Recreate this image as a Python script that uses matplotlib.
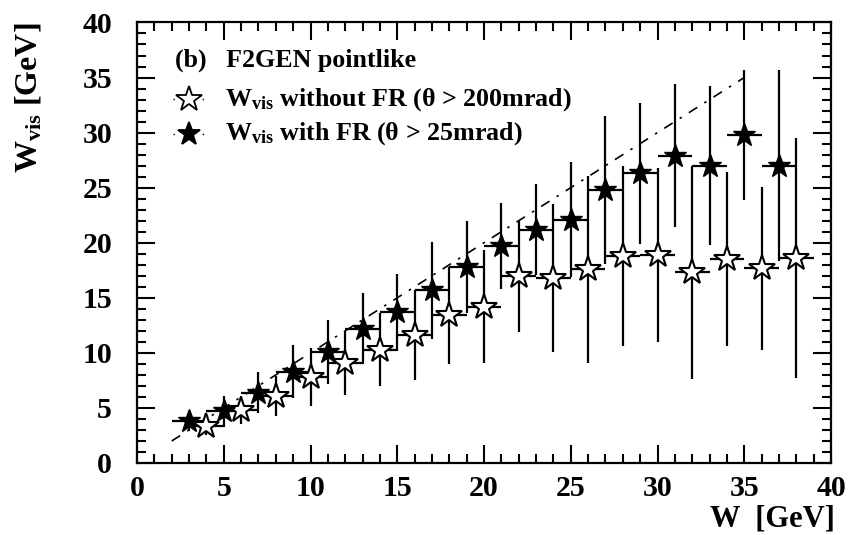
import numpy as np
import matplotlib
matplotlib.use("Agg")
import matplotlib.pyplot as plt

plt.rcParams['font.family'] = ['Liberation Serif', 'DejaVu Serif']
plt.rcParams['font.weight'] = 'bold'
plt.rcParams['mathtext.fontset'] = 'custom'
plt.rcParams['mathtext.rm'] = 'Liberation Serif:bold'
plt.rcParams['mathtext.bf'] = 'Liberation Serif:bold'
plt.rcParams['mathtext.it'] = 'Liberation Serif:bold'

# W_vis with forward region (theta > 25 mrad), filled stars
w_fr = [3, 5, 7, 9, 11, 13, 15, 17, 19, 21, 23, 25, 27, 29, 31, 33, 35, 37]
wvis_fr = [3.8, 4.7, 6.4, 8.3, 10.1, 12.2, 13.7, 15.7, 17.8, 19.7, 21.2, 22.1,
           24.8, 26.3, 27.9, 27.0, 29.8, 27.0]
err_fr = [0.9, 1.4, 1.9, 2.4, 2.9, 3.2, 3.5, 4.4, 4.2, 3.9, 4.1, 5.2,
          6.7, 6.4, 6.5, 7.2, 5.9, 8.7]

# W_vis without forward region (theta > 200 mrad), open stars
w_nofr = [4, 6, 8, 10, 12, 14, 16, 18, 20, 22, 24, 26, 28, 30, 32, 34, 36, 38]
wvis_nofr = [3.4, 4.8, 6.1, 7.8, 9.1, 10.3, 11.6, 13.4, 14.2, 17.0, 16.8, 17.6,
             18.8, 18.9, 17.3, 18.5, 17.7, 18.6]
err_nofr = [0.9, 1.3, 1.8, 2.6, 2.9, 3.3, 4.1, 4.4, 5.1, 5.1, 6.7, 8.5,
            8.2, 7.9, 9.7, 7.9, 7.4, 10.9]

bin_half = 1.0

# W_vis = W reference line
line_w = [2, 35]
line_wvis = [2, 35]

fig = plt.figure(figsize=(8.49, 5.35), dpi=100)
ax = fig.add_axes([0.1614, 0.1346, 0.8174, 0.8234])

ax.plot(line_w, line_wvis, color='black', lw=1.2, dashes=(6, 5, 1.5, 5), zorder=1)

ax.errorbar(w_nofr, wvis_nofr, yerr=err_nofr, xerr=bin_half, fmt='none',
            ecolor='black', elinewidth=1.6, capsize=0, zorder=2)
ax.errorbar(w_fr, wvis_fr, yerr=err_fr, xerr=bin_half, fmt='none',
            ecolor='black', elinewidth=1.6, capsize=0, zorder=2)
ax.plot(w_nofr, wvis_nofr, ls='none', marker='*', ms=19, mfc='white',
        mec='black', mew=1.5, zorder=3)
ax.plot(w_fr, wvis_fr, ls='none', marker='*', ms=17, mfc='black',
        mec='black', mew=1.0, zorder=4)

ax.set_xlim(0, 40)
ax.set_ylim(0, 40)
ax.set_xticks(np.arange(0, 41, 5))
ax.set_yticks(np.arange(0, 41, 5))
ax.set_xticks(np.arange(0, 41, 1), minor=True)
ax.set_yticks(np.arange(0, 41, 1), minor=True)
ax.tick_params(which='both', direction='in', top=True, right=True, width=1.5)
ax.tick_params(which='major', length=13, labelsize=21.5)
ax.tick_params(which='minor', length=6.5)
ax.tick_params(axis='x', pad=9)
ax.tick_params(axis='y', pad=18)
for lab in ax.get_xticklabels() + ax.get_yticklabels():
    lab.set_fontweight('bold')
for sp in ax.spines.values():
    sp.set_linewidth(1.6)

ax.text(1.006, -0.128, 'W  [GeV]', transform=ax.transAxes, ha='right',
        va='center', fontsize=22, fontweight='bold')
ax.text(-0.157, 1.0, r'W$_{\rm vis}$ [GeV]', transform=ax.transAxes,
        rotation=90, ha='center', va='top', fontsize=23, fontweight='bold')

# legend block
ax.text(0.0548, 0.915, '(b)   F2GEN pointlike', transform=ax.transAxes,
        ha='left', va='center', fontsize=18.7, fontweight='bold')
rows = [(0.826, 'white', r'W$_{\rm vis}$ without FR (θ > 200mrad)'),
        (0.747, 'black', r'W$_{\rm vis}$ with FR (θ > 25mrad)')]
for y, fc, label in rows:
    ax.plot([0.052, 0.098], [y, y], transform=ax.transAxes, color='black',
            lw=1.0, dashes=(1, 6), clip_on=False)
    ax.plot([0.075], [y], transform=ax.transAxes, ls='none', marker='*',
            ms=19 if fc == 'white' else 17, mfc=fc, mec='black', mew=1.3)
    ax.text(0.127, y, label, transform=ax.transAxes, ha='left', va='center',
            fontsize=18.7, fontweight='bold')

fig.savefig('out.png', dpi=100)
